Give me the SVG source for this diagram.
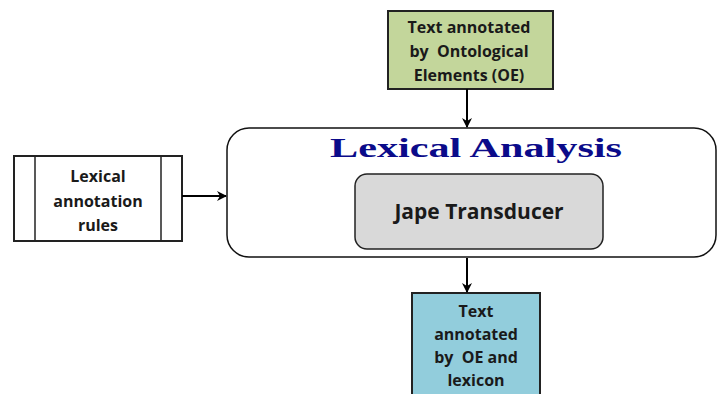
<svg xmlns="http://www.w3.org/2000/svg" width="718" height="394" viewBox="0 0 718 394">
<defs>
<marker id="arr" markerWidth="10" markerHeight="10" refX="9" refY="5" orient="auto" markerUnits="userSpaceOnUse">
<path d="M0,0 L10,5 L0,10 L3,5 z" fill="#000"/>
</marker>
<style>
.lbl{font-family:"Open Sans","Liberation Sans",Arial,sans-serif;font-weight:bold;font-size:16px;fill:#1a1a1a;text-anchor:middle;white-space:pre}
.box{stroke:#222;stroke-width:2}
.conn{stroke:#000;stroke-width:2;fill:none}
</style>
</defs>
<rect width="718" height="394" fill="#fff"/>
<g id="oe-text">
<rect class="box" x="388" y="11" width="165" height="78" fill="#c3d69b"/>
<text class="lbl" x="469" y="33">Text annotated</text>
<text class="lbl" x="469" y="57" xml:space="preserve">by  Ontological</text>
<text class="lbl" x="469" y="81">Elements (OE)</text>
</g>
<g id="lexical-analysis">
<rect x="227" y="128" width="489" height="129" rx="22" ry="22" fill="#fff" stroke="#111" stroke-width="1.5"/>
<text x="476" y="157" font-family="'Liberation Serif','Times New Roman',serif" font-weight="bold" font-size="28" fill="#0b0b8a" text-anchor="middle" textLength="292" lengthAdjust="spacingAndGlyphs">Lexical Analysis</text>
</g>
<g id="jape">
<rect x="355" y="174" width="248" height="75" rx="12" ry="12" fill="#d9d9d9" stroke="#222" stroke-width="1.5"/>
<text class="lbl" x="479" y="219" style="font-size:21px">Jape Transducer</text>
</g>
<g id="rules">
<rect class="box" x="14" y="156" width="168" height="85" fill="#fff"/>
<line x1="35" y1="156" x2="35" y2="241" stroke="#222" stroke-width="1.5"/>
<line x1="161" y1="156" x2="161" y2="241" stroke="#222" stroke-width="1.5"/>
<text class="lbl" x="98" y="182">Lexical</text>
<text class="lbl" x="98" y="207">annotation</text>
<text class="lbl" x="98" y="231">rules</text>
</g>
<g id="oe-lexicon">
<rect class="box" x="412" y="293" width="128" height="110" fill="#92cddc"/>
<text class="lbl" x="476" y="317">Text</text>
<text class="lbl" x="476" y="340">annotated</text>
<text class="lbl" x="476" y="363" xml:space="preserve">by  OE and</text>
<text class="lbl" x="476" y="386">lexicon</text>
</g>
<g id="connectors">
<line class="conn" x1="467" y1="89" x2="467" y2="127" marker-end="url(#arr)"/>
<line class="conn" x1="182" y1="196" x2="226" y2="196" marker-end="url(#arr)"/>
<line class="conn" x1="467" y1="258" x2="467" y2="292" marker-end="url(#arr)"/>
</g>
</svg>
